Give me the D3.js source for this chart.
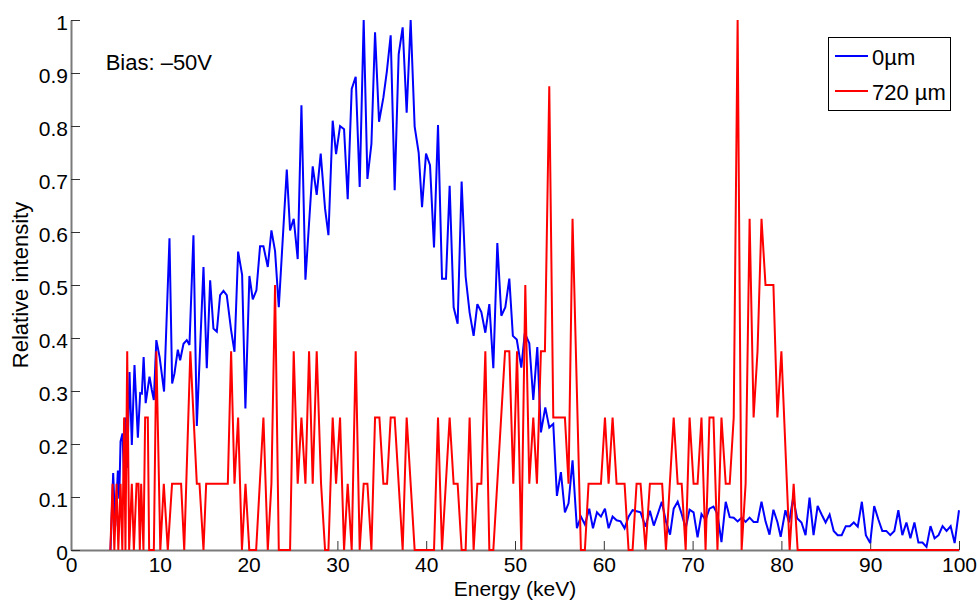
<!DOCTYPE html>
<html>
<head>
<meta charset="utf-8">
<script src="https://cdn.jsdelivr.net/npm/d3@7"></script>
<style>
    body { margin: 0; background: #fff; }
    svg { display: block; font-family: "Liberation Sans", Arial, Helvetica, sans-serif; }
</style>
</head>
<body>
<div id="chart"></div>
<script>
// 0 µm spectrum (blue)
const blueEnergy = [
    4.45, 4.75, 4.98, 5.28, 5.43, 5.58, 5.8, 5.98, 6.13, 6.33,
    6.59, 6.85, 7.15, 7.53, 7.79, 7.98, 8.18, 8.41, 8.84, 9.1,
    9.33, 9.61, 9.98, 10.48, 11.09, 11.39, 11.65, 12.03, 12.29, 12.67,
    13.04, 13.34, 13.79, 14.17, 14.92, 15.29, 15.67, 16.04, 16.42, 16.79,
    17.17, 17.54, 18.03, 18.41, 18.82, 19.27, 19.64, 20.09, 20.47, 20.88,
    21.29, 21.67, 22.16, 22.57, 22.98, 23.4,
    24.3, 24.67, 25.08, 25.53, 25.95, 26.4, 27.22, 27.67, 28.12, 28.61,
    28.99, 29.47, 29.85, 30.3, 30.75, 31.16, 31.61, 32.06, 32.51, 32.96,
    33.38, 33.83, 34.24, 34.69, 35.18, 35.57, 36.0, 36.45, 36.9, 37.35,
    37.8, 38.25, 38.7, 39.15, 39.53, 39.98, 40.43, 40.88, 41.33, 41.78,
    42.23, 42.64, 43.09, 43.54, 43.99, 44.44, 44.89, 45.34, 45.76, 46.21,
    46.66, 47.11, 47.56, 48.01, 48.46, 48.91, 49.36, 49.76, 50.2, 50.71,
    51.1, 51.61, 52.06, 52.51, 52.92, 53.41, 53.86, 54.31, 54.72, 55.17,
    55.62, 56.03, 56.48, 56.97, 57.42, 57.87, 58.36, 58.78, 59.23, 59.68,
    60.13, 60.54, 60.99, 61.44, 61.89, 62.34, 62.79, 63.24, 63.69,
    64.14, 64.7, 65.19, 65.63, 66.08, 66.53, 67.0, 67.46, 67.87, 68.32,
    68.77, 69.22, 69.66, 70.11, 70.56, 71.0, 71.46, 71.9, 72.35, 72.8,
    73.25, 73.73, 74.18, 74.63, 75.07, 75.52, 75.97, 76.42, 76.87, 77.31,
    77.76, 78.21, 78.66, 79.1, 79.55,
    79.92, 80.45, 80.87, 81.32, 81.77, 82.26, 82.72, 83.17, 83.62, 84.08,
    84.53, 84.98, 85.43, 85.89, 86.34, 86.79, 87.25, 87.7, 88.15, 88.6,
    89.06, 89.51, 90.0, 90.45, 90.91, 91.36, 91.81, 92.26, 92.72, 93.17,
    93.62, 94.08, 94.53, 94.98, 95.43, 95.89, 96.34, 96.79, 97.25, 97.7,
    98.15, 98.6, 99.06, 99.51, 100.0
];
const blueIntensity = [
    0, 0.145, 0.045, 0.15, 0.097, 0.205, 0.22, 0.13, 0.25, 0.155,
    0.336, 0.198, 0.349, 0.212, 0.296, 0.295, 0.364, 0.277, 0.327, 0.302,
    0.283, 0.396, 0.364, 0.299, 0.588, 0.314, 0.333, 0.378, 0.358, 0.389,
    0.396, 0.387, 0.594, 0.234, 0.534, 0.343, 0.509, 0.418, 0.412, 0.481,
    0.489, 0.481, 0.415, 0.374, 0.563, 0.519, 0.267, 0.517, 0.473, 0.49,
    0.573, 0.573, 0.534, 0.603, 0.564, 0.458,
    0.718, 0.603, 0.625, 0.549, 0.839, 0.51, 0.724, 0.67, 0.748, 0.644,
    0.594, 0.81, 0.747, 0.8, 0.794, 0.662, 0.87, 0.893, 0.685, 1.0,
    0.7, 0.766, 0.977, 0.808, 0.854, 0.903, 0.971, 0.679, 0.935, 0.986,
    0.825, 1.0, 0.799, 0.75, 0.647, 0.748, 0.726, 0.571, 0.802, 0.512,
    0.512, 0.687, 0.458, 0.427, 0.695, 0.516, 0.448, 0.404, 0.464, 0.449,
    0.41, 0.464, 0.343, 0.579, 0.442, 0.458, 0.512, 0.404, 0.397, 0.344,
    0.409, 0.39, 0.283, 0.383, 0.222, 0.269, 0.231, 0.238, 0.102, 0.147,
    0.071, 0.088, 0.169, 0.041, 0.063, 0.048, 0.078, 0.041, 0.071, 0.063,
    0.078, 0.041, 0.063, 0.056, 0.054, 0.041, 0.063, 0.075, 0.073,
    0.071, 0.044, 0.074, 0.046, 0.068, 0.091, 0.054, 0.029, 0.078, 0.091,
    0.068, 0.041, 0.076, 0.071, 0.024, 0.068, 0.057, 0.078, 0.082, 0.068,
    0.015, 0.091, 0.062, 0.061, 0.054, 0.061, 0.053, 0.061, 0.053, 0.053,
    0.091, 0.054, 0.029, 0.076, 0.053,
    0.025, 0.075, 0.052, 0.098, 0.06, 0.052, 0.028, 0.099, 0.028, 0.083,
    0.067, 0.052, 0.067, 0.036, 0.028, 0.028, 0.045, 0.045, 0.052, 0.044,
    0.091, 0.028, 0.013, 0.083, 0.058, 0.036, 0.036, 0.028, 0.036, 0.075,
    0.028, 0.052, 0.022, 0.052, 0.014, 0.014, 0.006, 0.045, 0.022, 0.028,
    0.045, 0.036, 0.045, 0.013, 0.075
];

// 720 µm spectrum (red)
const redEnergy = [
    4.43, 4.68, 4.88, 5.13, 5.33, 5.58, 5.78, 5.98, 6.13, 6.33,
    6.55, 6.85, 7.08, 7.38, 7.6, 7.75, 7.9, 8.16, 8.35, 8.65,
    8.8, 9.33, 9.61, 10.06, 10.45, 10.9, 11.38, 12.4, 12.75, 13.44,
    14.17, 14.47, 14.92, 15.22, 17.66, 18.03, 18.41, 18.82, 19.25, 19.65,
    20.08, 20.85, 21.67, 22.16, 22.57, 22.98, 23.4, 24.67, 25.08, 25.53,
    25.95, 26.4, 26.81, 27.22, 27.67, 28.16, 28.61, 28.99, 29.47, 29.85,
    30.3, 30.75, 31.16, 31.61, 32.06, 32.51, 32.96, 33.38, 33.83, 34.24,
    34.73, 35.18, 35.59, 36.0, 36.45, 37.35, 37.8, 38.7, 40.88, 41.33,
    41.78, 42.64, 43.09, 43.54, 43.99, 44.44, 44.89, 45.34, 45.76, 46.21,
    46.66, 47.11, 47.56, 48.88, 49.36, 49.81, 50.23, 50.71, 51.16, 51.61,
    52.06, 52.47, 52.92, 53.37, 53.86, 54.31, 55.62, 56.03, 56.48, 57.42,
    57.87, 58.28, 59.68, 60.13, 60.54, 60.99, 61.44, 62.34, 62.79, 63.24,
    63.69, 64.14, 64.7, 65.19, 66.57, 67.0, 67.87, 68.32, 68.77, 69.22,
    69.66, 70.11, 70.56, 71.0, 71.46, 71.9, 72.35, 72.8, 73.25, 73.73,
    74.18, 74.63, 75.07, 75.52, 75.97, 76.42, 76.87, 77.31, 77.76, 78.21,
    79.1, 79.55, 80.0, 80.93, 81.38, 81.83, 100
];
const redIntensity = [
    0, 0.125, 0, 0.125, 0, 0.125, 0, 0.25, 0, 0.375,
    0, 0.125, 0, 0.125, 0.125, 0, 0.125, 0, 0.25, 0.25,
    0, 0, 0.375, 0, 0.125, 0, 0.125, 0.125, 0, 0.375,
    0.125, 0.125, 0, 0.125, 0.125, 0.375, 0.125, 0.25, 0, 0.125,
    0, 0, 0.25, 0, 0.125, 0.5, 0, 0, 0.375, 0.125,
    0.25, 0.125, 0.375, 0.125, 0.375, 0.125, 0, 0, 0.25, 0.125,
    0.25, 0, 0.125, 0, 0.375, 0, 0.125, 0.125, 0, 0.25,
    0.25, 0.125, 0.125, 0.25, 0.25, 0, 0.25, 0, 0, 0.25,
    0, 0.25, 0.125, 0.125, 0, 0, 0.25, 0, 0.125, 0.125,
    0.375, 0, 0, 0.375, 0.375, 0.125, 0.375, 0, 0.5, 0.125,
    0.25, 0.125, 0.375, 0.375, 0.875, 0.25, 0.25, 0.125, 0.625, 0,
    0, 0.125, 0.125, 0.25, 0.125, 0.25, 0.125, 0.125, 0, 0,
    0.125, 0.125, 0, 0.125, 0.125, 0, 0.25, 0.125, 0.125, 0,
    0.25, 0.125, 0.125, 0.25, 0, 0.25, 0.25, 0, 0.25, 0.125,
    0.125, 0.25, 1.0, 0, 0.125, 0.625, 0.25, 0.375, 0.625, 0.5,
    0.5, 0.25, 0.375, 0, 0.125, 0, 0
];

const xTicks = [0, 10, 20, 30, 40, 50, 60, 70, 80, 90, 100];
const xTickLabels = ["0", "10", "20", "30", "40", "50", "60", "70", "80", "90", "100"];
const yTicks = [0, 0.1, 0.2, 0.3, 0.4, 0.5, 0.6, 0.7, 0.8, 0.9, 1];
const yTickLabels = ["0", "0.1", "0.2", "0.3", "0.4", "0.5", "0.6", "0.7", "0.8", "0.9", "1"];

const seriesNames = ["0\u00b5m", "720 \u00b5m"];
const seriesColors = ["#0000ff", "#ff0000"];

class SpectrumD3 {
    margin = { top: 20, right: 19, bottom: 51, left: 71 };
    size = { width: 978, height: 601 };

    constructor(el) {
        this.el = el;
    }

    create() {
        this.width = this.size.width - this.margin.left - this.margin.right;
        this.height = this.size.height - this.margin.top - this.margin.bottom;

        this.svg = d3.select(this.el).append("svg")
            .attr("width", this.size.width)
            .attr("height", this.size.height);

        this.svg.append("rect")
            .attr("width", this.size.width)
            .attr("height", this.size.height)
            .attr("fill", "#fff");

        this.svgG = this.svg.append("g")
            .attr("transform", `translate(${this.margin.left},${this.margin.top})`);

        this.xAxisG = this.svgG.append("g").attr("class", "x-axis");
        this.yAxisG = this.svgG.append("g").attr("class", "y-axis");
        this.linesG = this.svgG.append("g").attr("class", "lines");
        this.legendG = this.svg.append("g").attr("class", "legend");

        return this;
    }

    setupScales() {
        this.xScale = d3.scaleLinear().domain([0, 100]).range([0, this.width]);
        this.yScale = d3.scaleLinear().domain([0, 1]).range([this.height, 0]);
        return this;
    }

    renderAxes() {
        this.xAxisG
            .attr("transform", `translate(0,${this.height})`)
            .call(d3.axisBottom(this.xScale)
                .tickValues(xTicks)
                .tickFormat((d, i) => xTickLabels[i])
                .tickSizeInner(-9)
                .tickSizeOuter(0)
                .tickPadding(7));

        this.yAxisG
            .call(d3.axisLeft(this.yScale)
                .tickValues(yTicks)
                .tickFormat((d, i) => yTickLabels[i])
                .tickSizeInner(-9)
                .tickSizeOuter(0)
                .tickPadding(3));

        this.svgG.selectAll(".domain")
            .attr("stroke", "#7a7a7a")
            .attr("stroke-width", 2);
        this.svgG.selectAll(".tick line")
            .attr("stroke", "#333");
        this.svgG.selectAll(".tick text")
            .attr("font-size", 21)
            .attr("font-family", "Liberation Sans, Arial, sans-serif")
            .attr("fill", "#000");
        this.yAxisG.selectAll(".tick text").attr("dy", "0.47em");

        // axis titles
        this.svg.append("text")
            .attr("x", this.margin.left + this.width / 2)
            .attr("y", 596.2)
            .attr("text-anchor", "middle")
            .attr("font-size", 21)
            .text("Energy (keV)");

        this.svg.append("text")
            .attr("transform", `translate(28,${this.margin.top + this.height / 2}) rotate(-90)`)
            .attr("text-anchor", "middle")
            .attr("font-size", 22)
            .text("Relative intensity");

        this.svgG.append("text")
            .attr("x", this.xScale(3.9))
            .attr("y", this.yScale(0.905))
            .attr("font-size", 22)
            .text("Bias: \u201350V");

        return this;
    }

    renderLines() {
        const line = d3.line()
            .x(d => this.xScale(d[0]))
            .y(d => this.yScale(d[1]));

        const series = [
            blueEnergy.map((e, i) => [e, blueIntensity[i]]),
            redEnergy.map((e, i) => [e, redIntensity[i]])
        ];

        this.linesG.selectAll("path")
            .data(series)
            .join("path")
            .attr("fill", "none")
            .attr("stroke", (d, i) => seriesColors[i])
            .attr("stroke-width", 2)
            .attr("stroke-linejoin", "miter")
            .attr("stroke-miterlimit", 3)
            .attr("d", line);

        return this;
    }

    renderLegend() {
        this.legendG.attr("transform", "translate(828,37)");

        this.legendG.append("rect")
            .attr("x", 0.5)
            .attr("y", 0.5)
            .attr("width", 122)
            .attr("height", 73)
            .attr("fill", "#fff")
            .attr("stroke", "#000")
            .attr("stroke-width", 1);

        const items = this.legendG.selectAll(".legend-item")
            .data(seriesNames)
            .join("g")
            .attr("class", "legend-item")
            .attr("transform", (d, i) => `translate(0,${19 + i * 35})`);

        items.append("line")
            .attr("x1", 7)
            .attr("x2", 40)
            .attr("stroke", (d, i) => seriesColors[i])
            .attr("stroke-width", 2);

        items.append("text")
            .attr("x", 44)
            .attr("y", 8.5)
            .attr("font-size", 22)
            .text(d => d);

        return this;
    }
}

new SpectrumD3(document.getElementById("chart"))
    .create()
    .setupScales()
    .renderAxes()
    .renderLines()
    .renderLegend();
</script>
</body>
</html>
